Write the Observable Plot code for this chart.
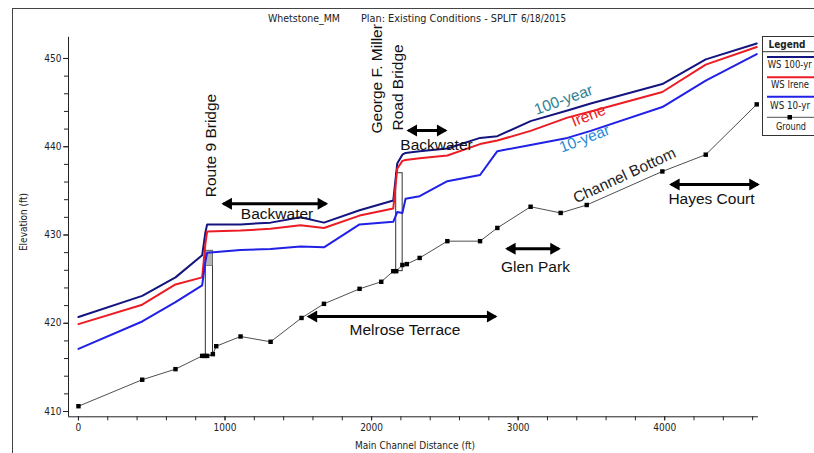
<!DOCTYPE html>
<html><head><meta charset="utf-8">
<script src="https://cdn.jsdelivr.net/npm/d3@7"></script>
<script src="https://cdn.jsdelivr.net/npm/@observablehq/plot@0.6"></script>
<style>
body{margin:0;background:#fff;}
#wrap{position:relative;width:814px;height:453px;overflow:hidden;background:#fff;
  font-family:"Liberation Sans Narrow","DejaVu Sans Condensed","Liberation Sans",Arial,sans-serif;color:#222;}
#chart{position:absolute;left:0;top:0;}
#frame{position:absolute;left:12px;top:8px;width:820px;height:460px;border-left:1px solid #444;border-top:1px solid #444;}
#title{position:absolute;left:0;top:0;}
#ylab{position:absolute;left:23px;top:222px;font-size:10px;white-space:nowrap;transform:translate(-50%,-50%) rotate(-90deg);}
#xlab{position:absolute;left:415px;top:445px;font-size:10px;white-space:nowrap;transform:translate(-50%,-50%);}
#legend{position:absolute;left:762px;top:36px;}
</style></head><body>
<div id="wrap">
  <div id="chart"></div>
  <div id="frame"></div>
  <svg id="title" width="814" height="30"></svg>
  <div id="ylab">Elevation (ft)</div>
  <div id="xlab">Main Channel Distance (ft)</div>
  <div id="legend"></div>
</div>
<script>
// ---- data (feet) ----
const wsStation = [0, 435, 662, 844, 866, 878, 1106, 1311, 1515, 1675, 1918, 2148, 2175, 2210, 2232, 2328, 2517, 2740, 2858, 3085, 3336, 3495, 3984, 4280, 4628];
const ws100     = [420.7, 423.1, 425.2, 427.7, 430.3, 431.2, 431.2, 431.4, 432.0, 431.4, 432.8, 433.9, 438.1, 439.1, 439.3, 439.5, 439.8, 441.0, 441.2, 442.9, 444.1, 444.9, 447.1, 449.9, 451.7];
const wsIrene   = [419.9, 422.1, 424.4, 425.2, 429.0, 430.4, 430.5, 430.7, 431.1, 430.8, 432.2, 433.0, 437.5, 438.4, 438.5, 438.7, 439.0, 440.3, 440.7, 441.8, 443.3, 444.0, 446.2, 449.3, 451.3];
const ws10      = [417.1, 420.2, 422.4, 424.3, 427.0, 428.0, 428.3, 428.4, 428.7, 428.6, 431.2, 431.5, 432.6, 432.5, 434.1, 434.4, 436.1, 436.8, 439.5, 440.2, 441.0, 441.8, 444.5, 447.5, 450.5];

const groundStation = [0, 435, 662, 844, 861, 878, 917, 940, 1106, 1311, 1522, 1675, 1918, 2066, 2148, 2168, 2210, 2240, 2328, 2517, 2740, 2858, 3085, 3290, 3468, 3984, 4280, 4628];
const groundElev    = [410.6, 413.6, 414.8, 416.3, 416.3, 416.3, 416.5, 417.4, 418.5, 417.9, 420.6, 422.2, 423.9, 424.7, 425.9, 425.9, 426.6, 426.7, 427.4, 429.3, 429.3, 430.8, 433.2, 432.5, 433.4, 437.2, 439.1, 444.8];

const bridgeName   = ["Route 9 Bridge", "George F. Miller Road Bridge"];
const bridgeUp     = [869, 2168];
const bridgeDown   = [918, 2212];
const bridgeBase   = [416.3, 425.9];
const bridgeLow    = [426.5, 437.0];
const bridgeHigh   = [428.2, 437.0];

const yMajor = [410, 420, 430, 440, 450];
const yMinor = d3.range(410, 452, 2);
const xMajor = [0, 1000, 2000, 3000, 4000];
const xMinor = d3.range(0, 4601, 200);

const titleParts = ["Whetstone_MM", "Plan: Existing Conditions - SPLIT", "6/18/2015"];
const legendLabels = ["WS 100-yr", "WS Irene", "WS 10-yr", "Ground"];

// annotations (data units: ft station, ft elevation)
const spanLabel = ["Backwater", "Backwater", "Melrose Terrace", "Glen Park", "Hayes Court"];
const spanFrom  = [989, 2252, 1571, 2925, 4044];
const spanTo    = [1690, 2504, 2845, 3277, 4635];
const spanElev  = [433.54, 441.84, 420.76, 428.44, 435.72];
const spanTextX = [1355, 2443, 2228, 3118, 4319];
const spanTextY = [432.32, 440.22, 419.26, 426.35, 434.10];

const notes = [
  {text: "100-year", x: 3309, y: 445.32, rotate: -20, color: "#2f7f93"},
  {text: "Irene", x: 3480, y: 443.51, rotate: -22, color: "#e82020"},
  {text: "10-year", x: 3453, y: 440.90, rotate: -21, color: "#1e8bd6"},
  {text: "Channel Bottom", x: 3725, y: 436.74, rotate: -25, color: "#222"},
  {text: "Route 9 Bridge", x: 907, y: 440.14, rotate: -90, color: "#111"}
];
const notesStart = [
  {text: "George F. Miller", x: 2040, y: 441.5},
  {text: "Road Bridge", x: 2180, y: 441.84}
];

// ---- tables ----
const ws = wsStation.flatMap((s, i) => [
  {series: "WS 100-yr", x: s, y: ws100[i]},
  {series: "WS Irene", x: s, y: wsIrene[i]},
  {series: "WS 10-yr", x: s, y: ws10[i]}
]);
const ground = groundStation.map((s, i) => ({x: s, y: groundElev[i]}));
const bridges = bridgeName.map((n, i) => ({name: n, x1: bridgeUp[i], x2: bridgeDown[i], base: bridgeBase[i], low: bridgeLow[i], high: bridgeHigh[i]}));
const spans = spanLabel.map((l, i) => ({label: l, x1: spanFrom[i], x2: spanTo[i], y: spanElev[i], tx: spanTextX[i], ty: spanTextY[i]}));

const colors = {"WS 100-yr": "#14147f", "WS Irene": "#ec1c24", "WS 10-yr": "#2020e6"};
const annFont = "Liberation Sans, Arial, sans-serif";
const narrow = "'Liberation Sans Narrow','DejaVu Sans Condensed',Arial,sans-serif";

const chart = Plot.plot({
  width: 814, height: 453,
  marginLeft: 68, marginRight: 56, marginTop: 36.8, marginBottom: 36.7,
  x: {domain: [-68, 4640], label: null},
  y: {domain: [409.4, 452.4], label: null},
  style: {fontFamily: narrow, fontSize: "10px", background: "transparent", color: "#222", overflow: "visible"},
  marks: [
    Plot.ruleX([-68], {stroke: "#222"}),
    Plot.ruleY([409.4], {stroke: "#222"}),
    Plot.axisY(yMinor, {tickSize: 4, tickFormat: () => "", label: null}),
    Plot.axisY(yMajor, {tickSize: 5, tickPadding: 2, tickFormat: d => String(d), label: null}),
    Plot.axisX(xMinor, {tickSize: 4, tickFormat: () => "", label: null}),
    Plot.axisX(xMajor, {tickSize: 4, tickPadding: 3, tickFormat: d => String(d), label: null}),
    // bridges
    Plot.rect(bridges, {x1: "x1", x2: "x2", y1: "base", y2: "high", stroke: "#333", fill: "none", strokeWidth: 1}),
    Plot.rect(bridges.filter(b => b.high > b.low), {x1: "x1", x2: "x2", y1: "low", y2: "high", fill: "#b4b4b4", stroke: "#666", strokeWidth: 0.8}),
    // ground
    Plot.line(ground, {x: "x", y: "y", stroke: "#222", strokeWidth: 0.8}),
    Plot.dot(ground, {x: "x", y: "y", symbol: "square", r: 2.5, fill: "#000"}),
    // water surfaces
    Plot.line(ws, {x: "x", y: "y", z: "series", stroke: d => colors[d.series], strokeWidth: 2}),
    // spans
    Plot.link(spans, {x1: "x1", x2: "x2", y1: "y", y2: "y", stroke: "#000", strokeWidth: 3, insetLeft: 2, insetRight: 2}),
    Plot.dot(spans, {x: "x2", y: "y", symbol: "triangle", r: 4.5, fill: "#000", rotate: 90, dx: -5}),
    Plot.dot(spans, {x: "x1", y: "y", symbol: "triangle", r: 4.5, fill: "#000", rotate: -90, dx: 5}),
    Plot.text(spans, {x: "tx", y: "ty", text: "label", fontSize: 15.5, fontFamily: annFont, fill: "#111"}),
    Plot.text(notes, {x: "x", y: "y", text: "text", rotate: "rotate", fill: "color", fontSize: 15.5, fontFamily: annFont}),
    Plot.text(notesStart, {x: "x", y: "y", text: "text", rotate: -90, textAnchor: "start", fill: "#111", fontSize: 15.5, fontFamily: annFont})
  ]
});
document.getElementById("chart").appendChild(chart);

// title (condensed like the source)
const tsvg = d3.select("#title").style("font-family", narrow).style("font-size", "11px");
const titleX = [268, 361, 521], titleW = [72, 156, 45];
titleParts.forEach((t, i) => {
  tsvg.append("text").attr("x", titleX[i]).attr("y", 22).attr("fill", "#222")
    .attr("textLength", titleW[i]).attr("lengthAdjust", "spacingAndGlyphs").text(t);
});

// legend
const lg = d3.select("#legend").append("svg").attr("width", 60).attr("height", 101)
  .style("font-family", narrow).style("font-size", "10px");
lg.append("rect").attr("x", 0.5).attr("y", 0.5).attr("width", 57).attr("height", 99).attr("fill", "#fff").attr("stroke", "#333");
lg.append("text").attr("x", 6.5).attr("y", 11.5).attr("font-weight", "bold").attr("fill", "#222")
  .attr("textLength", 37).attr("lengthAdjust", "spacingAndGlyphs").text("Legend");
lg.append("line").attr("x1", 0).attr("x2", 60).attr("y1", 15.7).attr("y2", 15.7).attr("stroke", "#333");
const rowLine = [21, 41.3, 60.7, 81.3], rowText = [31.7, 52, 72.5, 94];
const rowX = [5.7, 9, 8, 14], rowW = [44, 38, 40, 30];
const rowColor = [colors["WS 100-yr"], colors["WS Irene"], colors["WS 10-yr"], "#222"];
legendLabels.forEach((label, i) => {
  lg.append("line").attr("x1", 5).attr("x2", 60).attr("y1", rowLine[i]).attr("y2", rowLine[i])
    .attr("stroke", rowColor[i]).attr("stroke-width", i < 3 ? 2 : 0.8);
  lg.append("text").attr("x", rowX[i]).attr("y", rowText[i]).attr("fill", "#222")
    .attr("textLength", rowW[i]).attr("lengthAdjust", "spacingAndGlyphs").text(label);
});
lg.append("rect").attr("x", 25.5).attr("y", 79).attr("width", 4.5).attr("height", 4.5).attr("fill", "#000");
</script>
</body></html>
